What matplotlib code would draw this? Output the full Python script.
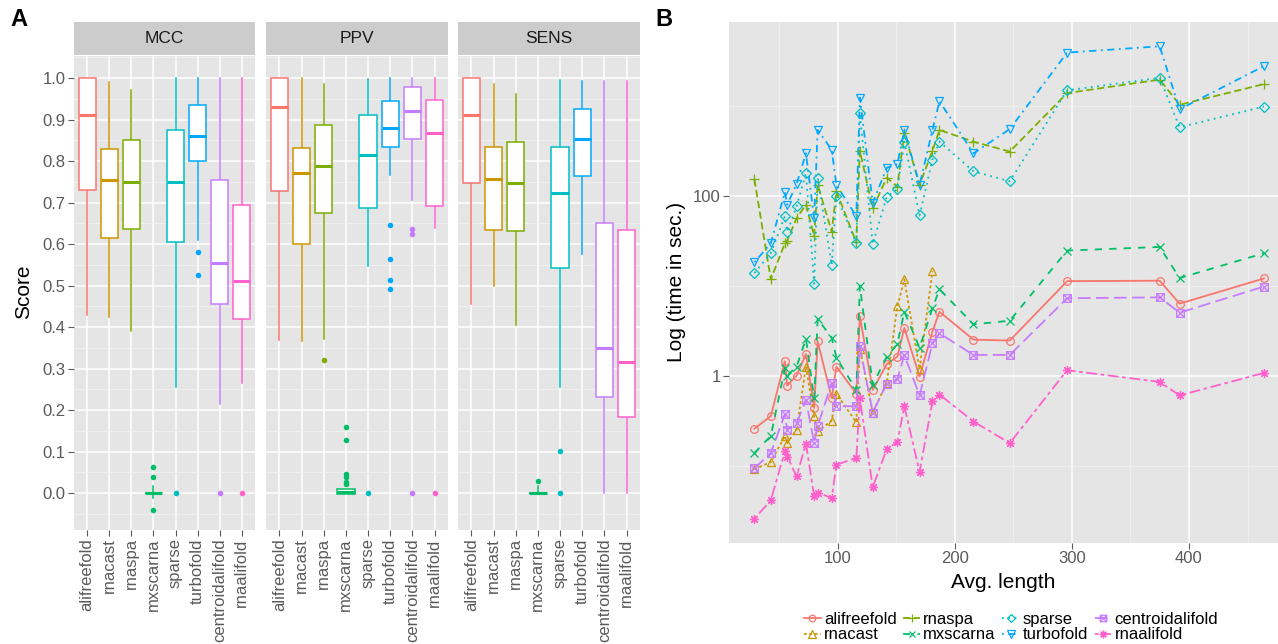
import numpy as np
import matplotlib
matplotlib.use("Agg")
import matplotlib.pyplot as plt
from matplotlib.lines import Line2D
from matplotlib.path import Path
from matplotlib.ticker import FixedLocator, NullFormatter

plt.rcParams['font.family'] = ['Liberation Sans', 'DejaVu Sans']

W, H = 1278, 644

methods = ['alifreefold', 'rnacast', 'rnaspa', 'mxscarna', 'sparse',
           'turbofold', 'centroidalifold', 'rnaalifold']
colors = ['#F8766D', '#CD9600', '#7CAE00', '#00BE67', '#00BFC4',
          '#00A9FF', '#C77CFF', '#FF61CC']

# panel A: box statistics per metric
mcc_q1 = [0.73, 0.615, 0.635, 0.0, 0.605, 0.80, 0.455, 0.42]
mcc_med = [0.91, 0.755, 0.75, 0.0, 0.75, 0.86, 0.555, 0.51]
mcc_q3 = [1.0, 0.83, 0.85, 0.0, 0.875, 0.935, 0.755, 0.695]
mcc_lo = [0.43, 0.425, 0.39, -0.013, 0.255, 0.61, 0.215, 0.265]
mcc_hi = [1.0, 0.99, 0.97, 0.017, 1.0, 1.0, 1.0, 1.0]
mcc_out = [[], [], [], [0.062, 0.039, -0.041], [0.0], [0.58, 0.525], [0.0], [0.0]]

ppv_q1 = [0.727, 0.599, 0.674, -0.002, 0.686, 0.834, 0.853, 0.691]
ppv_med = [0.929, 0.772, 0.789, 0.003, 0.815, 0.879, 0.920, 0.868]
ppv_q3 = [1.0, 0.831, 0.886, 0.009, 0.911, 0.945, 0.978, 0.948]
ppv_lo = [0.369, 0.366, 0.372, -0.002, 0.546, 0.766, 0.707, 0.638]
ppv_hi = [1.0, 1.0, 0.986, 0.009, 0.997, 1.0, 1.0, 1.0]
ppv_out = [[], [], [0.32], [0.158, 0.129, 0.046, 0.039, 0.027, 0.022], [0.0],
           [0.647, 0.563, 0.514, 0.491], [0.636, 0.623, 0.0], [0.0]]

sens_q1 = [0.748, 0.634, 0.632, 0.0, 0.542, 0.764, 0.232, 0.183]
sens_med = [0.910, 0.756, 0.747, 0.0, 0.722, 0.853, 0.350, 0.316]
sens_q3 = [1.0, 0.834, 0.846, 0.0, 0.833, 0.925, 0.650, 0.634]
sens_lo = [0.456, 0.5, 0.406, 0.0, 0.256, 0.575, 0.0, 0.0]
sens_hi = [1.0, 0.986, 0.961, 0.017, 0.994, 0.993, 0.993, 0.993]
sens_out = [[], [], [], [0.029], [0.102, 0.0], [], [], []]

# panel B: avg. length vs log10(time in sec.)
avg_len = [29, 43, 55, 57, 65, 73, 80, 83, 95, 99, 116, 119, 130, 142, 151,
           157, 170, 181, 187, 216, 247, 296, 375, 392, 464]
nan = np.nan
t_alifreefold = [-0.59, -0.45, 0.16, -0.11, 0.0, 0.24, -0.36, 0.38, -0.25, 0.10, -0.20, 0.66,
                 -0.16, 0.13, 0.21, 0.53, -0.01, 0.49, 0.71, 0.40, 0.39, 1.05, 1.055, 0.80, 1.08]
t_rnacast = [-1.04, -0.96, -0.67, -0.75, -0.6, 0.1, -0.45, -0.62, -0.5, -0.2, -0.52, 0.3,
             -0.41, -0.08, 0.77, 1.07, 0.07, 1.16, nan, nan, nan, nan, nan, nan, nan]
t_rnaspa = [2.18, 1.07, 1.47, 1.5, 1.75, 1.9, 1.55, 2.12, 1.6, 2.05, 1.48, 2.5,
            1.86, 2.2, 2.1, 2.7, 2.12, 2.5, 2.73, 2.6, 2.49, 3.14, 3.29, 3.01, 3.24]
t_mxscarna = [-0.86, -0.67, 0.08, 0.0, 0.1, 0.41, -0.25, 0.63, 0.42, 0.2, -0.16, 1.0,
              -0.1, 0.21, 0.35, 0.71, 0.31, 0.75, 0.96, 0.57, 0.61, 1.39, 1.43, 1.085, 1.36]
t_sparse = [1.14, 1.36, 1.77, 1.6, 1.88, 2.25, 1.02, 2.2, 1.23, 2.0, 1.47, 2.92,
            1.46, 1.99, 2.07, 2.6, 1.78, 2.4, 2.6, 2.27, 2.16, 3.17, 3.31, 2.76, 2.99]
t_turbofold = [1.26, 1.47, 2.04, 1.9, 2.13, 2.47, 1.75, 2.73, 2.51, 2.12, 1.77, 3.09,
               1.92, 2.31, 2.35, 2.73, 2.12, 2.73, 3.05, 2.47, 2.74, 3.59, 3.66, 2.96, 3.44]
t_centroidalifold = [-1.03, -0.86, -0.43, -0.6, -0.53, -0.27, -0.75, -0.56, -0.08, -0.34, -0.34, 0.33,
                     -0.41, -0.09, -0.04, 0.23, -0.22, 0.36, 0.47, 0.23, 0.23, 0.86, 0.87, 0.70, 0.99]
t_rnaalifold = [-1.59, -1.385, -0.84, -0.9, -1.12, -0.755, -1.34, -1.3, -1.36, -0.99, -0.915, -0.25,
                -1.24, -0.815, -0.74, -0.34, -1.07, -0.285, -0.21, -0.51, -0.75, 0.06, -0.07, -0.22, 0.03]

times = [t_alifreefold, t_rnacast, t_rnaspa, t_mxscarna, t_sparse,
         t_turbofold, t_centroidalifold, t_rnaalifold]

boxsq = Path([(-1, -1), (1, -1), (1, 1), (-1, 1), (-1, -1), (1, 1), (-1, 1), (1, -1)],
             [Path.MOVETO, Path.LINETO, Path.LINETO, Path.LINETO, Path.LINETO,
              Path.LINETO, Path.MOVETO, Path.LINETO])
markers = ['o', '^', '+', 'x', 'D', 'v', boxsq, (8, 2, 0)]
msizes = [5.5, 6, 7.5, 5.5, 4.8, 6, 5.5, 6.5]
lstyles = ['-', (0, (1.5, 1.5)), (0, (4, 2)), (0, (4, 4)), (0, (1, 2.5)),
           (0, (1, 2.5, 4, 2.5)), (0, (7, 3)), (0, (2, 2, 6, 2))]

bg = '#E5E5E5'
tickc = '#5A5A5A'

fig = plt.figure(figsize=(W / 100, H / 100), dpi=100)


def px_axes(x0, y0, x1, y1):
    return fig.add_axes([x0 / W, 1 - y1 / H, (x1 - x0) / W, (y1 - y0) / H])


facets = [('MCC', 74, 255, mcc_q1, mcc_med, mcc_q3, mcc_lo, mcc_hi, mcc_out),
          ('PPV', 266, 448, ppv_q1, ppv_med, ppv_q3, ppv_lo, ppv_hi, ppv_out),
          ('SENS', 458, 640, sens_q1, sens_med, sens_q3, sens_lo, sens_hi, sens_out)]

for k, (name, x0, x1, q1, med, q3, lo, hi, out) in enumerate(facets):
    ax = px_axes(x0, 56, x1, 530)
    ax.set_facecolor(bg)
    for s in ax.spines.values():
        s.set_visible(False)
    ax.set_xlim(-0.6, 7.6)
    ax.set_ylim(-0.089, 1.053)
    ax.set_yticks(np.arange(0, 1.01, 0.1))
    ax.yaxis.set_minor_locator(FixedLocator(np.arange(-0.05, 1.06, 0.1)))
    ax.set_xticks(range(8))
    ax.set_xticklabels(methods, rotation=90, fontsize=12, color=tickc)
    ax.set_axisbelow(True)
    ax.grid(which='major', color='white', lw=1.1)
    ax.grid(which='minor', axis='y', color='#F2F2F2', lw=0.6)
    ax.tick_params(which='minor', length=0)
    ax.tick_params(which='major', length=4, color=tickc, width=0.8, pad=2)
    if k == 0:
        ax.set_yticklabels(['%.1f' % v for v in np.arange(0, 1.01, 0.1)],
                           fontsize=12, color=tickc)
    else:
        ax.tick_params(axis='y', length=0, labelleft=False)

    stats = [dict(med=med[i], q1=q1[i], q3=q3[i], whislo=lo[i], whishi=hi[i],
                  fliers=out[i]) for i in range(8)]
    res = ax.bxp(stats, positions=range(8), widths=0.78, patch_artist=True,
                 showcaps=False, manage_ticks=False)
    for i, c in enumerate(colors):
        res['boxes'][i].set(facecolor='white', edgecolor=c, lw=1.1, zorder=3)
        res['medians'][i].set(color=c, lw=2.2, zorder=4)
        for w in res['whiskers'][2 * i:2 * i + 2]:
            w.set(color=c, lw=1.1, zorder=2)
        res['fliers'][i].set(marker='o', markerfacecolor=c, markeredgecolor='none',
                             markersize=4, zorder=5)

    st = px_axes(x0, 22, x1, 55)
    st.set_facecolor('#CCCCCC')
    st.set_xticks([])
    st.set_yticks([])
    for s in st.spines.values():
        s.set_visible(False)
    st.text(0.5, 0.5, name, ha='center', va='center', fontsize=12.5,
            color='#1A1A1A', transform=st.transAxes)

fig.text(24 / W, 1 - 292 / H, 'Score', rotation=90, ha='center', va='center', fontsize=15)
fig.text(10 / W, 1 - 20 / H, 'A', ha='left', va='center', fontsize=17, fontweight='bold')
fig.text(655 / W, 1 - 20 / H, 'B', ha='left', va='center', fontsize=17, fontweight='bold')

# panel B
bx = px_axes(729, 22, 1278, 543)
bx.set_facecolor(bg)
for s in bx.spines.values():
    s.set_visible(False)
bx.set_yscale('log')
bx.set_xlim(7.3, 476)
bx.set_ylim(10 ** -1.86, 10 ** 3.93)
bx.xaxis.set_major_locator(FixedLocator([100, 200, 300, 400]))
bx.xaxis.set_minor_locator(FixedLocator([50, 150, 250, 350, 450]))
bx.yaxis.set_major_locator(FixedLocator([1, 100]))
bx.yaxis.set_minor_locator(FixedLocator([0.1, 10, 1000]))
bx.yaxis.set_minor_formatter(NullFormatter())
bx.set_yticklabels(['1', '100'])
bx.set_axisbelow(True)
bx.grid(which='major', color='white', lw=1.1)
bx.grid(which='minor', color='#F2F2F2', lw=0.6)
bx.tick_params(which='minor', length=0)
bx.tick_params(which='major', length=4, color=tickc, width=0.8, labelsize=12,
               labelcolor=tickc, pad=2)

handles = []
for i, m in enumerate(methods):
    yv = 10 ** np.array(times[i])
    bx.plot(avg_len, yv, color=colors[i], ls=lstyles[i], lw=1.3,
            marker=markers[i], markersize=msizes[i], markerfacecolor='none',
            markeredgecolor=colors[i], markeredgewidth=0.9)
    handles.append(Line2D([], [], color=colors[i], ls=lstyles[i], lw=1.3,
                          marker=markers[i], markersize=msizes[i] * 0.85,
                          markerfacecolor='none', markeredgecolor=colors[i],
                          markeredgewidth=0.9))

fig.text(1003 / W, 1 - 583 / H, 'Avg. length', ha='center', va='center', fontsize=15)
fig.text(676 / W, 1 - 282 / H, 'Log (time in sec.)', rotation=90, ha='center',
         va='center', fontsize=15)

fig.legend(handles, methods, ncol=4, loc='center', bbox_to_anchor=(1011 / W, 1 - 627 / H),
           frameon=False, fontsize=12, handlelength=1.0, handletextpad=0.2,
           columnspacing=0.4, labelspacing=0.05, borderpad=0)

fig.savefig('out.png', dpi=100)
